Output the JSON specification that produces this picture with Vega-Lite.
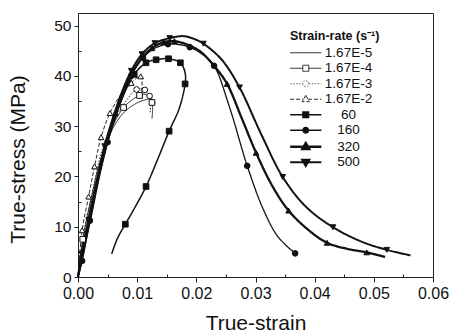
{
  "$schema": "https://vega.github.io/schema/vega-lite/v6.json",
  "width": 355,
  "height": 264,
  "autosize": {"type": "none"},
  "padding": {"left": 78, "top": 13, "right": 16, "bottom": 55},
  "background": "white",
  "config": {
    "font": "Liberation Sans",
    "view": {"stroke": "#222", "strokeWidth": 1},
    "axis": {"domainColor": "#222", "tickColor": "#222", "labelColor": "#111", "titleColor": "#111", "grid": false, "labelFont": "Liberation Sans", "titleFont": "Liberation Sans", "titleFontWeight": "normal"},
    "legend": {"orient": "none", "legendX": 212, "legendY": 16.5, "padding": 0, "symbolSize": 64, "symbolOffset": 9, "labelOffset": 36, "labelAlign": "center", "rowPadding": 0.5, "titleFontSize": 12.5, "titleFontWeight": "bold", "titleColor": "#111", "titlePadding": 4, "labelFontSize": 13.5, "labelColor": "#111"}
  },
  "datasets": {
    "curves": [
      {"s":"500","i":1,"x":0,"y":0},{"s":"500","i":2,"x":0.0006,"y":4.6},{"s":"500","i":3,"x":0.0018,"y":11.3},{"s":"500","i":4,"x":0.0031,"y":18.8},{"s":"500","i":5,"x":0.0045,"y":26},{"s":"500","i":6,"x":0.006,"y":32},{"s":"500","i":7,"x":0.0075,"y":37},{"s":"500","i":8,"x":0.009,"y":41},{"s":"500","i":9,"x":0.0108,"y":44.3},{"s":"500","i":10,"x":0.013,"y":46.5},{"s":"500","i":11,"x":0.0155,"y":47.5},{"s":"500","i":12,"x":0.0178,"y":47.9},{"s":"500","i":13,"x":0.0195,"y":47.4},{"s":"500","i":14,"x":0.0212,"y":46.4},{"s":"500","i":15,"x":0.0243,"y":43.2},{"s":"500","i":16,"x":0.0273,"y":37.7},{"s":"500","i":17,"x":0.031,"y":28.3},{"s":"500","i":18,"x":0.0346,"y":19.9},{"s":"500","i":19,"x":0.0385,"y":14},{"s":"500","i":20,"x":0.0431,"y":9.9},{"s":"500","i":21,"x":0.048,"y":7},{"s":"500","i":22,"x":0.0522,"y":5.4},{"s":"500","i":23,"x":0.0562,"y":4.3},
      {"s":"320","i":1,"x":0,"y":0},{"s":"320","i":2,"x":0.0007,"y":4.2},{"s":"320","i":3,"x":0.002,"y":11.8},{"s":"320","i":4,"x":0.0034,"y":19.8},{"s":"320","i":5,"x":0.0048,"y":26.5},{"s":"320","i":6,"x":0.0063,"y":32.5},{"s":"320","i":7,"x":0.0083,"y":38.5},{"s":"320","i":8,"x":0.0103,"y":42.8},{"s":"320","i":9,"x":0.0125,"y":45.5},{"s":"320","i":10,"x":0.0145,"y":46.7},{"s":"320","i":11,"x":0.0163,"y":46.9},{"s":"320","i":12,"x":0.0185,"y":46.2},{"s":"320","i":13,"x":0.0207,"y":44.8},{"s":"320","i":14,"x":0.023,"y":42},{"s":"320","i":15,"x":0.0252,"y":38.4},{"s":"320","i":16,"x":0.0277,"y":31.5},{"s":"320","i":17,"x":0.0301,"y":24.7},{"s":"320","i":18,"x":0.0328,"y":18.2},{"s":"320","i":19,"x":0.0356,"y":13.2},{"s":"320","i":20,"x":0.039,"y":9.3},{"s":"320","i":21,"x":0.0421,"y":6.8},{"s":"320","i":22,"x":0.0455,"y":5.6},{"s":"320","i":23,"x":0.0488,"y":4.9},{"s":"320","i":24,"x":0.0519,"y":4.0},
      {"s":"160","i":1,"x":0,"y":0},{"s":"160","i":2,"x":0.0007,"y":3.2},{"s":"160","i":3,"x":0.002,"y":11.2},{"s":"160","i":4,"x":0.0035,"y":19.8},{"s":"160","i":5,"x":0.005,"y":26.8},{"s":"160","i":6,"x":0.007,"y":34},{"s":"160","i":7,"x":0.009,"y":40},{"s":"160","i":8,"x":0.011,"y":43.6},{"s":"160","i":9,"x":0.013,"y":45.5},{"s":"160","i":10,"x":0.0152,"y":46.3},{"s":"160","i":11,"x":0.0172,"y":46.2},{"s":"160","i":12,"x":0.0189,"y":45.7},{"s":"160","i":13,"x":0.021,"y":44.3},{"s":"160","i":14,"x":0.023,"y":42},{"s":"160","i":15,"x":0.0256,"y":33.8},{"s":"160","i":16,"x":0.0286,"y":22.1},{"s":"160","i":17,"x":0.0313,"y":13.5},{"s":"160","i":18,"x":0.0338,"y":8},{"s":"160","i":19,"x":0.0367,"y":4.7},
      {"s":"60","i":1,"x":0,"y":0},{"s":"60","i":2,"x":0.002,"y":10.8},{"s":"60","i":3,"x":0.004,"y":22},{"s":"60","i":4,"x":0.006,"y":30.8},{"s":"60","i":5,"x":0.008,"y":37},{"s":"60","i":6,"x":0.0095,"y":40.3},{"s":"60","i":7,"x":0.0115,"y":42.6},{"s":"60","i":8,"x":0.0132,"y":43.2},{"s":"60","i":9,"x":0.0153,"y":43.4},{"s":"60","i":10,"x":0.0173,"y":42.6},{"s":"60","i":11,"x":0.0181,"y":40.6},{"s":"60","i":12,"x":0.0181,"y":38.4},{"s":"60","i":13,"x":0.0171,"y":33.5},{"s":"60","i":14,"x":0.0154,"y":29},{"s":"60","i":15,"x":0.0135,"y":23.5},{"s":"60","i":16,"x":0.0115,"y":18},{"s":"60","i":17,"x":0.0097,"y":14},{"s":"60","i":18,"x":0.008,"y":10.5},{"s":"60","i":19,"x":0.0068,"y":8},{"s":"60","i":20,"x":0.0061,"y":6},{"s":"60","i":21,"x":0.0057,"y":4.6},
      {"s":"1.67E-2","i":1,"x":0,"y":0},{"s":"1.67E-2","i":2,"x":0.0007,"y":9.3},{"s":"1.67E-2","i":3,"x":0.0018,"y":16},{"s":"1.67E-2","i":4,"x":0.0028,"y":22},{"s":"1.67E-2","i":5,"x":0.0039,"y":27.8},{"s":"1.67E-2","i":6,"x":0.0054,"y":32.6},{"s":"1.67E-2","i":7,"x":0.0072,"y":36.2},{"s":"1.67E-2","i":8,"x":0.009,"y":38.6},{"s":"1.67E-2","i":9,"x":0.0106,"y":39.9},{"s":"1.67E-2","i":10,"x":0.0107,"y":35.5},
      {"s":"1.67E-3","i":1,"x":0,"y":0},{"s":"1.67E-3","i":2,"x":0.0009,"y":8},{"s":"1.67E-3","i":3,"x":0.0024,"y":16.5},{"s":"1.67E-3","i":4,"x":0.004,"y":25},{"s":"1.67E-3","i":5,"x":0.006,"y":31},{"s":"1.67E-3","i":6,"x":0.008,"y":34.8},{"s":"1.67E-3","i":7,"x":0.0099,"y":37.3},{"s":"1.67E-3","i":8,"x":0.0113,"y":37.2},{"s":"1.67E-3","i":9,"x":0.0121,"y":36},{"s":"1.67E-3","i":10,"x":0.0122,"y":32.5},
      {"s":"1.67E-4","i":1,"x":0,"y":0},{"s":"1.67E-4","i":2,"x":0.0008,"y":7.5},{"s":"1.67E-4","i":3,"x":0.002,"y":14.5},{"s":"1.67E-4","i":4,"x":0.0035,"y":22},{"s":"1.67E-4","i":5,"x":0.005,"y":27.6},{"s":"1.67E-4","i":6,"x":0.0064,"y":31.3},{"s":"1.67E-4","i":7,"x":0.0077,"y":33.7},{"s":"1.67E-4","i":8,"x":0.009,"y":35.1},{"s":"1.67E-4","i":9,"x":0.0104,"y":36.1},{"s":"1.67E-4","i":10,"x":0.0115,"y":36.3},{"s":"1.67E-4","i":11,"x":0.0125,"y":34.7},{"s":"1.67E-4","i":12,"x":0.0125,"y":31.5},
      {"s":"1.67E-5","i":1,"x":0,"y":0},{"s":"1.67E-5","i":2,"x":0.001,"y":7.5},{"s":"1.67E-5","i":3,"x":0.0025,"y":16},{"s":"1.67E-5","i":4,"x":0.004,"y":23},{"s":"1.67E-5","i":5,"x":0.0055,"y":28.6},{"s":"1.67E-5","i":6,"x":0.0075,"y":32.4},{"s":"1.67E-5","i":7,"x":0.0095,"y":34.3},{"s":"1.67E-5","i":8,"x":0.011,"y":35.1},{"s":"1.67E-5","i":9,"x":0.0125,"y":35.4},{"s":"1.67E-5","i":10,"x":0.0131,"y":34.6}
    ],
    "marks": [
      {"s":"500","x":0.0006,"y":4.6},{"s":"500","x":0.0018,"y":11.3},{"s":"500","x":0.0045,"y":26},{"s":"500","x":0.009,"y":41},{"s":"500","x":0.0108,"y":44.3},{"s":"500","x":0.013,"y":46.5},{"s":"500","x":0.0155,"y":47.5},{"s":"500","x":0.0212,"y":46.4},{"s":"500","x":0.0273,"y":37.7},{"s":"500","x":0.0346,"y":19.9},{"s":"500","x":0.0431,"y":9.9},{"s":"500","x":0.0522,"y":5.4},
      {"s":"320","x":0.002,"y":11.8},{"s":"320","x":0.0063,"y":32.5},{"s":"320","x":0.0083,"y":38.5},{"s":"320","x":0.0125,"y":45.5},{"s":"320","x":0.0145,"y":46.7},{"s":"320","x":0.0163,"y":46.9},{"s":"320","x":0.0252,"y":38.4},{"s":"320","x":0.0301,"y":24.7},{"s":"320","x":0.0356,"y":13.2},{"s":"320","x":0.0421,"y":6.8},{"s":"320","x":0.0488,"y":4.9},
      {"s":"160","x":0.0007,"y":3.2},{"s":"160","x":0.002,"y":11.2},{"s":"160","x":0.005,"y":26.8},{"s":"160","x":0.009,"y":40},{"s":"160","x":0.011,"y":43.6},{"s":"160","x":0.0152,"y":46.3},{"s":"160","x":0.0189,"y":45.7},{"s":"160","x":0.023,"y":42},{"s":"160","x":0.0286,"y":22.1},{"s":"160","x":0.0367,"y":4.7},
      {"s":"60","x":0.0095,"y":40.3},{"s":"60","x":0.0115,"y":42.6},{"s":"60","x":0.0132,"y":43.2},{"s":"60","x":0.0153,"y":43.4},{"s":"60","x":0.0173,"y":42.6},{"s":"60","x":0.0181,"y":38.4},{"s":"60","x":0.0154,"y":29},{"s":"60","x":0.0115,"y":18},{"s":"60","x":0.008,"y":10.5},
      {"s":"1.67E-2","x":0.0007,"y":9.3},{"s":"1.67E-2","x":0.0018,"y":16},{"s":"1.67E-2","x":0.0028,"y":22},{"s":"1.67E-2","x":0.0039,"y":27.8},{"s":"1.67E-2","x":0.0054,"y":32.6},{"s":"1.67E-2","x":0.009,"y":38.6},{"s":"1.67E-2","x":0.0106,"y":39.9},
      {"s":"1.67E-3","x":0.0099,"y":37.3},{"s":"1.67E-3","x":0.0113,"y":37.2},{"s":"1.67E-3","x":0.0121,"y":36},
      {"s":"1.67E-4","x":0.0008,"y":7.5},{"s":"1.67E-4","x":0.0077,"y":33.7},{"s":"1.67E-4","x":0.0104,"y":36.1},{"s":"1.67E-4","x":0.0125,"y":34.7}
    ]
  },
  "encoding": {
    "x": {"field": "x", "type": "quantitative", "scale": {"domain": [0, 0.06], "nice": false, "zero": false},
      "axis": {"title": "True-strain", "values": [0,0.005,0.01,0.015,0.02,0.025,0.03,0.035,0.04,0.045,0.05,0.055,0.06], "labelExpr": "round(datum.value*1000) % 10 == 0 ? format(datum.value, '.2f') : ''", "labelFontSize": 16, "titleFontSize": 21, "tickSize": {"condition": {"test": "round(datum.value*1000) % 10 != 0", "value": -3}, "value": 5}, "labelPadding": 3, "titleY": 52, "titleBaseline": "alphabetic", "labelFlush": false, "labelOverlap": false}},
    "y": {"field": "y", "type": "quantitative", "scale": {"domain": [0, 52.5], "nice": false},
      "axis": {"title": "True-stress (MPa)", "values": [0,5,10,15,20,25,30,35,40,45,50], "labelExpr": "datum.value % 10 == 0 ? datum.label : ''", "labelFontSize": 15.5, "titleFontSize": 21, "tickSize": {"condition": {"test": "datum.value % 10 != 0", "value": -3}, "value": 4}, "labelPadding": 3, "titleX": -60, "titleY": 146, "titleBaseline": "middle", "titleAlign": "center", "titleAngle": -90, "labelFlush": false, "labelOverlap": false}}
  },
  "layer": [
    {
      "data": {"name": "curves"},
      "mark": {"type": "line", "interpolate": "catmull-rom", "color": "#111"},
      "encoding": {
        "order": {"field": "i", "type": "quantitative"},
        "strokeDash": {"field": "s", "type": "nominal", "scale": {"domain": ["1.67E-5","1.67E-4","1.67E-3","1.67E-2","60","160","320","500"], "range": [[1,0],[1,0],[1.5,1.5],[4,2],[1,0],[1,0],[1,0],[1,0]]}, "legend": null},
        "strokeWidth": {"field": "s", "type": "nominal", "scale": {"type": "ordinal", "domain": ["1.67E-5","1.67E-4","1.67E-3","1.67E-2","60","160","320","500"], "range": [0.9,0.9,0.9,0.9,1.5,1.3,2.3,2.0]}, "legend": null}
      }
    },
    {
      "data": {"name": "marks"},
      "mark": {"type": "point", "filled": true, "stroke": "#111", "strokeWidth": 1, "opacity": 1},
      "encoding": {
        "shape": {"field": "s", "type": "nominal", "scale": {"domain": ["1.67E-5","1.67E-4","1.67E-3","1.67E-2","60","160","320","500"], "range": ["circle","square","circle","triangle-up","square","circle","triangle-up","triangle-down"]}, "legend": null},
        "fill": {"field": "s", "type": "nominal", "scale": {"domain": ["1.67E-5","1.67E-4","1.67E-3","1.67E-2","60","160","320","500"], "range": ["#111","white","white","white","#111","#111","#111","#111"]}, "legend": null},
        "size": {"value": 32}
      }
    },
    {
      "data": {"name": "marks"},
      "transform": [{"filter": "false"}],
      "mark": {"type": "point", "filled": true, "opacity": 1},
      "encoding": {
        "shape": {"field": "s", "type": "nominal", "scale": {"domain": ["1.67E-5","1.67E-4","1.67E-3","1.67E-2","60","160","320","500"], "range": [
          "M-3.9,0H3.9",
          "M-3.9,0H-0.75M0.75,0H3.9M-0.75,-0.75H0.75V0.75H-0.75Z",
          "M-3.9,0H-0.75M0.75,0H3.9M-0.75,0A0.75,0.75,0,1,0,0.75,0A0.75,0.75,0,1,0,-0.75,0Z",
          "M-3.9,0H-0.55M0.55,0H3.9M0,-0.95L0.9,0.6H-0.9Z",
          "M-3.9,0H3.9M-0.7,-0.7H0.7V0.7H-0.7Z",
          "M-3.9,0H3.9M-0.7,0A0.7,0.7,0,1,0,0.7,0A0.7,0.7,0,1,0,-0.7,0Z",
          "M-3.9,0H3.9M0,-0.95L0.9,0.6H-0.9Z",
          "M-3.9,0H3.9M0,0.95L0.9,-0.6H-0.9Z"]},
          "legend": {"title": "Strain-rate (s⁻¹)"}},
        "fill": {"field": "s", "type": "nominal", "scale": {"domain": ["1.67E-5","1.67E-4","1.67E-3","1.67E-2","60","160","320","500"], "range": ["#111","white","white","white","#111","#111","#111","#111"]}, "legend": {"title": "Strain-rate (s⁻¹)"}},
        "stroke": {"field": "s", "type": "nominal", "scale": {"domain": ["1.67E-5","1.67E-4","1.67E-3","1.67E-2","60","160","320","500"], "range": ["#111","#111","#555","#111","#111","#111","#111","#111"]}, "legend": {"title": "Strain-rate (s⁻¹)"}},
        "strokeDash": {"field": "s", "type": "nominal", "scale": {"domain": ["1.67E-5","1.67E-4","1.67E-3","1.67E-2","60","160","320","500"], "range": [[1,0],[1,0],[1.5,1.5],[4,2],[1,0],[1,0],[1,0],[1,0]]}, "legend": {"title": "Strain-rate (s⁻¹)"}},
        "strokeWidth": {"field": "s", "type": "nominal", "scale": {"type": "ordinal", "domain": ["1.67E-5","1.67E-4","1.67E-3","1.67E-2","60","160","320","500"], "range": [0.9,0.9,0.9,0.9,1.5,1.3,2.3,2.0]}, "legend": {"title": "Strain-rate (s⁻¹)"}}
      }
    }
  ],
  "resolve": {"scale": {"shape": "independent", "fill": "independent", "stroke": "independent", "strokeDash": "independent", "strokeWidth": "independent"}, "legend": {"shape": "independent", "fill": "independent", "stroke": "independent", "strokeDash": "independent", "strokeWidth": "independent"}}
}
